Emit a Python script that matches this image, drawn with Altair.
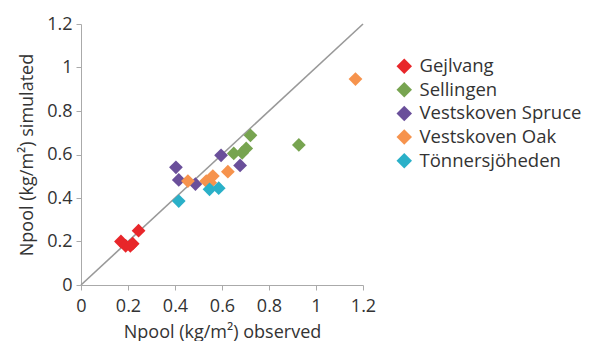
import altair as alt
import pandas as pd

sites = ["Gejlvang", "Sellingen", "Vestskoven Spruce", "Vestskoven Oak", "Tönnersjöheden"]
colors = ["#e8262a", "#77a450", "#6a4f9a", "#f6934d", "#2ab0c8"]

gej_obs = [0.17, 0.19, 0.21, 0.22, 0.245]
gej_sim = [0.20, 0.18, 0.18, 0.19, 0.25]
sel_obs = [0.65, 0.686, 0.703, 0.721, 0.927]
sel_sim = [0.605, 0.608, 0.628, 0.688, 0.644]
vss_obs = [0.404, 0.416, 0.487, 0.596, 0.677]
vss_sim = [0.541, 0.483, 0.464, 0.596, 0.550]
vso_obs = [0.455, 0.533, 0.55, 0.561, 0.625, 1.168]
vso_sim = [0.478, 0.478, 0.47, 0.501, 0.521, 0.947]
ton_obs = [0.416, 0.547, 0.586]
ton_sim = [0.386, 0.440, 0.445]

rows = []
for site, xs, ys in zip(sites,
                        [gej_obs, sel_obs, vss_obs, vso_obs, ton_obs],
                        [gej_sim, sel_sim, vss_sim, vso_sim, ton_sim]):
    for xv, yv in zip(xs, ys):
        rows.append({"site": site, "obs": xv, "sim": yv})
df = pd.DataFrame(rows)

line_df = pd.DataFrame({"obs": [0, 1.2], "sim": [0, 1.2]})

font = "Open Sans"
xscale = alt.Scale(domain=[0, 1.2], nice=False)
yscale = alt.Scale(domain=[0, 1.2], nice=False)
ticks = [0, 0.2, 0.4, 0.6, 0.8, 1, 1.2]
lblexpr = "datum.value == 0 ? '0' : format(datum.value, '.1~f')"

xaxis = alt.Axis(values=ticks, title="Npool (kg/m²) observed", grid=False,
                 labelExpr=lblexpr, labelFlush=False,
                 domainColor="#aaaaaa", tickColor="#aaaaaa", tickSize=5,
                 labelFont=font, labelFontSize=18, labelColor="#333333", labelPadding=7,
                 titleFont=font, titleFontSize=18, titleFontWeight="normal",
                 titleColor="#333333", titlePadding=8)
yaxis = alt.Axis(values=ticks, title="Npool (kg/m²) simulated", grid=False,
                 labelExpr=lblexpr, labelFlush=False,
                 domainColor="#aaaaaa", tickColor="#aaaaaa", tickSize=5,
                 labelFont=font, labelFontSize=18, labelColor="#333333", labelPadding=4,
                 titleFont=font, titleFontSize=18, titleFontWeight="normal",
                 titleColor="#333333", titlePadding=10)

diag = alt.Chart(line_df).mark_line(color="#999999", strokeWidth=1.6).encode(
    x=alt.X("obs:Q", scale=xscale, axis=xaxis),
    y=alt.Y("sim:Q", scale=yscale, axis=yaxis),
)

pts = alt.Chart(df).mark_point(shape="diamond", filled=True, size=190, opacity=1).encode(
    x=alt.X("obs:Q", scale=xscale, axis=xaxis),
    y=alt.Y("sim:Q", scale=yscale, axis=yaxis),
    color=alt.Color("site:N", scale=alt.Scale(domain=sites, range=colors),
                    legend=alt.Legend(title=None, orient="none", legendX=314, legendY=33,
                                      padding=0,
                                      symbolType="diamond", symbolSize=240,
                                      symbolOpacity=1,
                                      labelFont=font, labelFontSize=18.5,
                                      labelLimit=400,
                                      labelColor="#333333", rowPadding=4.6,
                                      labelOffset=6)),
)

chart = (diag + pts).properties(
    width=282, height=261,
    autosize=alt.AutoSizeParams(type="none"),
    padding={"left": 73, "top": 16, "right": 221, "bottom": 56},
).configure_view(stroke=None)

chart.save("out.html", embed_options={"renderer": "svg", "actions": False})
